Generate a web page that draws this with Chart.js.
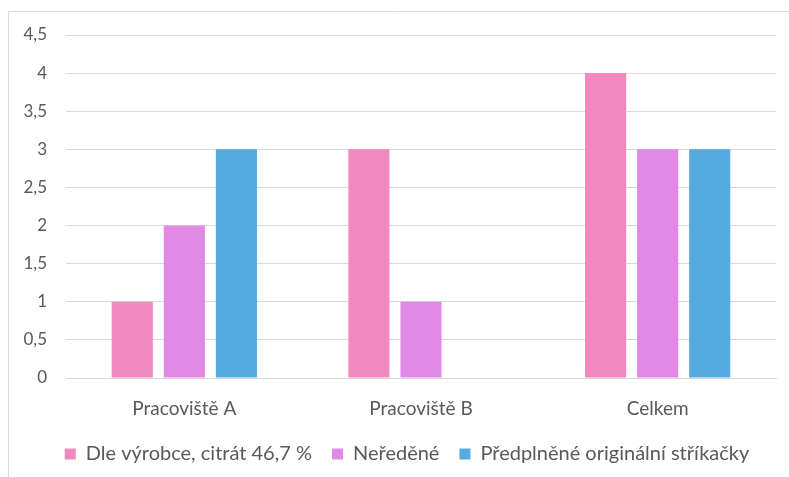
<!DOCTYPE html>
<html>
<head>
<meta charset="utf-8">
<script src="https://cdn.jsdelivr.net/npm/chart.js@4/dist/chart.umd.min.js"></script>
<style>
  html, body { margin: 0; padding: 0; background: #ffffff; overflow: hidden; }
  #wrap { position: relative; width: 789px; height: 477px; }
</style>
</head>
<body>
<div id="wrap"><canvas id="c" width="789" height="477"></canvas></div>
<script>
const categories = ['Pracoviště A', 'Pracoviště B', 'Celkem'];
const seriesNames = ['Dle výrobce, citrát 46,7 %', 'Neředěné', 'Předplněné originální stříkačky'];
const dleVyrobce = [1, 3, 4];
const neredene = [2, 1, 3];
const predplnene = [3, 0, 3];
const seriesColors = ['#EF89BE', '#E08AE6', '#55ABE0'];

const textColor = '#595959';
const fontFamily = 'Lato, "Open Sans", sans-serif';

// Light frame along the top and left edges of the chart panel
const framePlugin = {
  id: 'frame',
  beforeDraw(chart) {
    const ctx = chart.ctx;
    ctx.save();
    ctx.strokeStyle = '#d9d9d9';
    ctx.lineWidth = 1;
    ctx.beginPath();
    ctx.moveTo(8.5, 477);
    ctx.lineTo(8.5, 11.5);
    ctx.lineTo(789, 11.5);
    ctx.stroke();
    ctx.restore();
  }
};

// Centre the legend row under the framed panel rather than the whole canvas
const legendShift = {
  id: 'legendShift',
  afterLayout(chart) {
    const lg = chart.legend;
    if (lg) {
      lg.left += 19;
      lg.right += 19;
      lg.adjustHitBoxes && lg.adjustHitBoxes();
    }
  }
};

new Chart(document.getElementById('c'), {
  type: 'bar',
  data: {
    labels: categories,
    datasets: [
      { label: seriesNames[0], data: dleVyrobce, backgroundColor: seriesColors[0] },
      { label: seriesNames[1], data: neredene, backgroundColor: seriesColors[1] },
      { label: seriesNames[2], data: predplnene, backgroundColor: seriesColors[2] }
    ]
  },
  options: {
    responsive: false,
    animation: false,
    devicePixelRatio: 1,
    categoryPercentage: 0.66,
    barPercentage: 0.79,
    layout: { padding: { top: 35, right: 13, left: 0, bottom: 3 } },
    plugins: {
      legend: {
        position: 'bottom',
        labels: {
          boxWidth: 11,
          boxHeight: 11,
          padding: 20,
          color: textColor,
          font: { family: fontFamily, size: 20 }
        }
      },
      tooltip: { enabled: false }
    },
    scales: {
      x: {
        afterFit(scale) { scale.height = 46; },
        grid: { display: false, drawTicks: false },
        border: { color: '#d9d9d9', width: 1 },
        ticks: { color: textColor, padding: 19, font: { family: fontFamily, size: 19 } }
      },
      y: {
        min: 0,
        max: 4.5,
        afterFit(scale) { scale.width = 66; },
        grid: { color: '#d9d9d9', lineWidth: 1, drawTicks: false },
        border: { display: false },
        ticks: {
          stepSize: 0.5,
          padding: 19,
          color: textColor,
          font: { family: fontFamily, size: 17 },
          callback: (v) => String(v).replace('.', ',')
        }
      }
    }
  },
  plugins: [framePlugin, legendShift]
});
</script>
</body>
</html>
